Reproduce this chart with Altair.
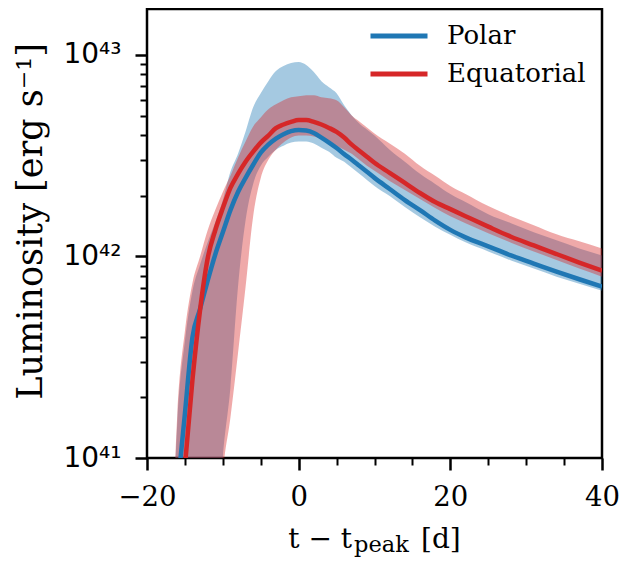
import altair as alt
import pandas as pd

# time since peak [d]
t = [-17, -16, -15, -14, -13, -12, -11, -10, -9, -8, -7, -6, -5, -4, -3, -2, -1, 0,
     1, 2, 3, 4, 5, 6, 7, 8, 9, 10, 12, 14, 16, 18, 20, 22, 25, 28, 31, 34, 37, 40]

# log10 luminosity [erg/s]
polar_mean = [40.3, 40.82, 41.22, 41.6, 41.74, 41.88, 42.01, 42.12, 42.23, 42.32, 42.39, 42.455,
              42.515, 42.555, 42.585, 42.607, 42.622, 42.628, 42.625, 42.613, 42.59, 42.565,
              42.538, 42.508, 42.48, 42.45, 42.42, 42.39, 42.335, 42.28, 42.23, 42.178,
              42.132, 42.095, 42.05, 42.005, 41.965, 41.925, 41.887, 41.85]
polar_lo = [40.0, 40.0, 40.0, 40.0, 40.0, 40.0, 40.4, 41.0, 41.35, 41.85, 42.18, 42.36,
            42.45, 42.495, 42.53, 42.55, 42.565, 42.57, 42.57, 42.56, 42.54, 42.52,
            42.49, 42.47, 42.44, 42.41, 42.38, 42.35, 42.30, 42.245, 42.195, 42.148,
            42.108, 42.07, 42.025, 41.98, 41.94, 41.9, 41.865, 41.83]
polar_hi = [40.2, 41.18, 41.58, 41.83, 41.96, 42.07, 42.17, 42.28, 42.42, 42.51, 42.62, 42.74,
            42.81, 42.87, 42.92, 42.945, 42.96, 42.965, 42.95, 42.915, 42.87, 42.84,
            42.81, 42.75, 42.70, 42.66, 42.63, 42.60, 42.53, 42.47, 42.41, 42.36,
            42.31, 42.27, 42.21, 42.165, 42.12, 42.08, 42.04, 42.005]

eq_mean = [39.9, 40.45, 40.96, 41.39, 41.735, 41.99, 42.13, 42.24, 42.34, 42.41, 42.47, 42.52,
           42.565, 42.60, 42.637, 42.655, 42.668, 42.677, 42.677, 42.668, 42.655, 42.638,
           42.618, 42.59, 42.555, 42.525, 42.495, 42.465, 42.415, 42.365, 42.315, 42.27,
           42.235, 42.2, 42.148, 42.098, 42.055, 42.012, 41.97, 41.93]
eq_lo = [40.0, 40.0, 40.0, 40.0, 40.0, 40.0, 40.4, 40.93, 41.2, 41.52, 41.85, 42.2,
         42.39, 42.48, 42.53, 42.565, 42.59, 42.6, 42.6, 42.595, 42.585, 42.57,
         42.55, 42.53, 42.51, 42.48, 42.45, 42.425, 42.375, 42.33, 42.285, 42.24,
         42.2, 42.165, 42.115, 42.068, 42.025, 41.983, 41.94, 41.9]
eq_hi = [40.2, 41.22, 41.63, 41.87, 42.0, 42.13, 42.23, 42.32, 42.40, 42.49, 42.57, 42.645,
         42.69, 42.73, 42.755, 42.775, 42.79, 42.795, 42.80, 42.80, 42.79, 42.785,
         42.775, 42.74, 42.70, 42.67, 42.64, 42.61, 42.56, 42.51, 42.45, 42.40,
         42.35, 42.31, 42.25, 42.20, 42.155, 42.11, 42.075, 42.04]

series_names = ["Polar", "Equatorial"]
series_colors = ["#1f77b4", "#d62728"]

x_tick_values = [-20, -15, -10, -5, 0, 5, 10, 15, 20, 25, 30, 35, 40]
y_tick_values = [float(f"{k}e{n}") for n in (41, 42) for k in range(1, 10)] + [1e43]

# x-axis title pieces: "t − t", subscript "peak", " [d]"
xtitle_main = "t \u2212 t"
xtitle_sub = "peak"
xtitle_end = "[d]"

rows = []
for name, m, lo, hi in [("Polar", polar_mean, polar_lo, polar_hi),
                        ("Equatorial", eq_mean, eq_lo, eq_hi)]:
    assert len(m) == len(lo) == len(hi) == len(t)
    for ti, a, b, c in zip(t, m, lo, hi):
        rows.append({"t": ti, "series": name, "mean": 10 ** a, "lo": 10 ** b, "hi": 10 ** c})
df = pd.DataFrame(rows)

xscale = alt.Scale(domain=[-20, 40], nice=False, zero=False)
yscale = alt.Scale(type="log", domain=[1e41, 10 ** 43.228], nice=False)
cscale = alt.Scale(domain=series_names, range=series_colors)

xaxis = alt.Axis(
    values=x_tick_values,
    labelExpr="datum.value % 20 == 0 ? replace(format(datum.value, 'd'), '-', '\u2212') : ''",
    title=None,
    labelFont="DejaVu Serif", labelFontSize=27.5, labelColor="black", labelPadding=13,
    labelFlush=False, labelOverlap=False,
    grid=False, domain=False, tickColor="black",
    tickSize={"condition": {"test": "datum.value % 20 == 0", "value": 12}, "value": 7},
    tickWidth={"condition": {"test": "datum.value % 20 == 0", "value": 2.5}, "value": 2},
)
major_test = "datum.value == 1e41 || datum.value == 1e42 || datum.value == 1e43"
yaxis = alt.Axis(
    values=y_tick_values,
    labelExpr="datum.value == 1e41 ? '10\u2074\u00b9' : datum.value == 1e42 ? '10\u2074\u00b2' : datum.value == 1e43 ? '10\u2074\u00b3' : ''",
    title="Luminosity [erg s\u207b\u00b9]",
    titleFont="DejaVu Serif", titleFontSize=35, titleFontWeight="normal", titleColor="black",
    titlePadding=14, titleY=212,
    labelFont="DejaVu Sans", labelFontSize=28, labelColor="black", labelPadding=14,
    labelFlush=False, labelOverlap=False,
    grid=False, domain=False, tickColor="black",
    tickSize={"condition": {"test": major_test, "value": 12}, "value": 7},
    tickWidth={"condition": {"test": major_test, "value": 2.5}, "value": 2},
)

X = alt.X("t:Q", scale=xscale, axis=xaxis)

def band(name, color):
    return alt.Chart(df).transform_filter(f"datum.series == '{name}'").mark_area(
        clip=True, color=color, fillOpacity=0.4, interpolate="monotone"
    ).encode(x=X, y=alt.Y("lo:Q", scale=yscale, axis=yaxis), y2="hi:Q")

legend = alt.Legend(
    title=None, orient="none", legendX=238, legendY=13,
    symbolType="M-2.5,0H2.5", symbolSize=520, symbolStrokeWidth=5,
    labelFont="DejaVu Serif", labelFontSize=26, labelColor="black",
    labelOffset=34, rowPadding=11, padding=0,
)

def line(name):
    return alt.Chart(df).transform_filter(f"datum.series == '{name}'").mark_line(
        clip=True, strokeWidth=4.5, interpolate="monotone"
    ).encode(
        x=X,
        y=alt.Y("mean:Q", scale=yscale, axis=yaxis),
        color=alt.Color("series:N", scale=cscale, legend=legend),
    )

def title_piece(text, x, y, size, align):
    return alt.Chart(pd.DataFrame({"s": [text]})).mark_text(
        font="DejaVu Serif", fontSize=size, color="black", align=align, baseline="alphabetic"
    ).encode(text="s:N", x=alt.value(x), y=alt.value(y))

chart = alt.layer(
    band("Polar", series_colors[0]),
    band("Equatorial", series_colors[1]),
    line("Polar"),
    line("Equatorial"),
    title_piece(xtitle_main, 205, 539, 28, "right"),
    title_piece(xtitle_sub, 207, 543, 22.5, "left"),
    title_piece(xtitle_end, 274, 539, 28, "left"),
).properties(
    width=455, height=449,
    autosize=alt.AutoSizeParams(type="none"),
    padding={"left": 139, "top": 1, "right": 17, "bottom": 99},
).configure_view(
    stroke="black", strokeWidth=2.5
)

chart.save("out.html", embed_options={"renderer": "svg", "actions": False})
